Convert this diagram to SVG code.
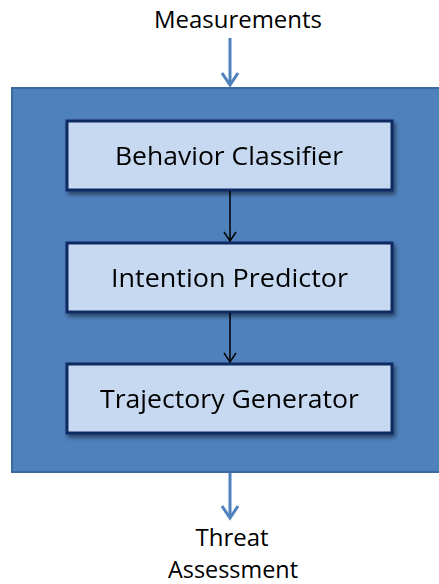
<svg xmlns="http://www.w3.org/2000/svg" width="439" height="584" viewBox="0 0 439 584">
<style>
.lbl{font-family:"Open Sans","Noto Sans",sans-serif;font-size:23px;fill:#000;text-anchor:middle}
.box{fill:#c6d9f1;stroke:#0f2b63;stroke-width:3}
.btxt{font-family:"Open Sans","Noto Sans",sans-serif;font-size:26px;fill:#000;text-anchor:middle}
.blue{stroke:#4f81bd;stroke-width:3;fill:none}
.blk{stroke:#000;stroke-width:1.5;fill:none}
</style>
<defs>
<filter id="sh" x="-10%" y="-10%" width="130%" height="140%">
<feGaussianBlur in="SourceAlpha" stdDeviation="2"/>
<feOffset dx="2" dy="3"/>
<feComponentTransfer><feFuncA type="linear" slope="0.5"/></feComponentTransfer>
<feMerge><feMergeNode/><feMergeNode in="SourceGraphic"/></feMerge>
</filter>
</defs>
<g id="container">
<rect x="12" y="88" width="430" height="384" fill="#4f81bd" stroke="#3d6a9e" stroke-width="2"/>
</g>
<g id="measurements"><text class="lbl" x="238" y="28" textLength="168" lengthAdjust="spacingAndGlyphs">Measurements</text></g>
<g id="threat"><text class="lbl" x="232" y="546" textLength="73" lengthAdjust="spacingAndGlyphs">Threat</text><text class="lbl" x="233" y="578" textLength="130" lengthAdjust="spacingAndGlyphs">Assessment</text></g>
<g id="behavior" filter="url(#sh)"><rect class="box" x="67" y="121" width="325" height="69"/><text class="btxt" x="229" y="165" textLength="228" lengthAdjust="spacingAndGlyphs">Behavior Classifier</text></g>
<g id="intention" filter="url(#sh)"><rect class="box" x="67" y="243" width="325" height="69"/><text class="btxt" x="229.5" y="287" textLength="237" lengthAdjust="spacingAndGlyphs">Intention Predictor</text></g>
<g id="trajectory" filter="url(#sh)"><rect class="box" x="67" y="364" width="325" height="69"/><text class="btxt" x="229.5" y="408" textLength="259" lengthAdjust="spacingAndGlyphs">Trajectory Generator</text></g>
<g id="connectors">
<path class="blue" d="M230 38V84"/><path class="blue" d="M222 73L230 85L238 73"/>
<path class="blue" d="M230 473V517"/><path class="blue" d="M222 506L230 518L238 506"/>
<path class="blk" d="M230 191V240"/><path class="blk" d="M224 232L230 241L236 232"/>
<path class="blk" d="M230 313V361"/><path class="blk" d="M224 353L230 362L236 353"/>
</g>
</svg>
